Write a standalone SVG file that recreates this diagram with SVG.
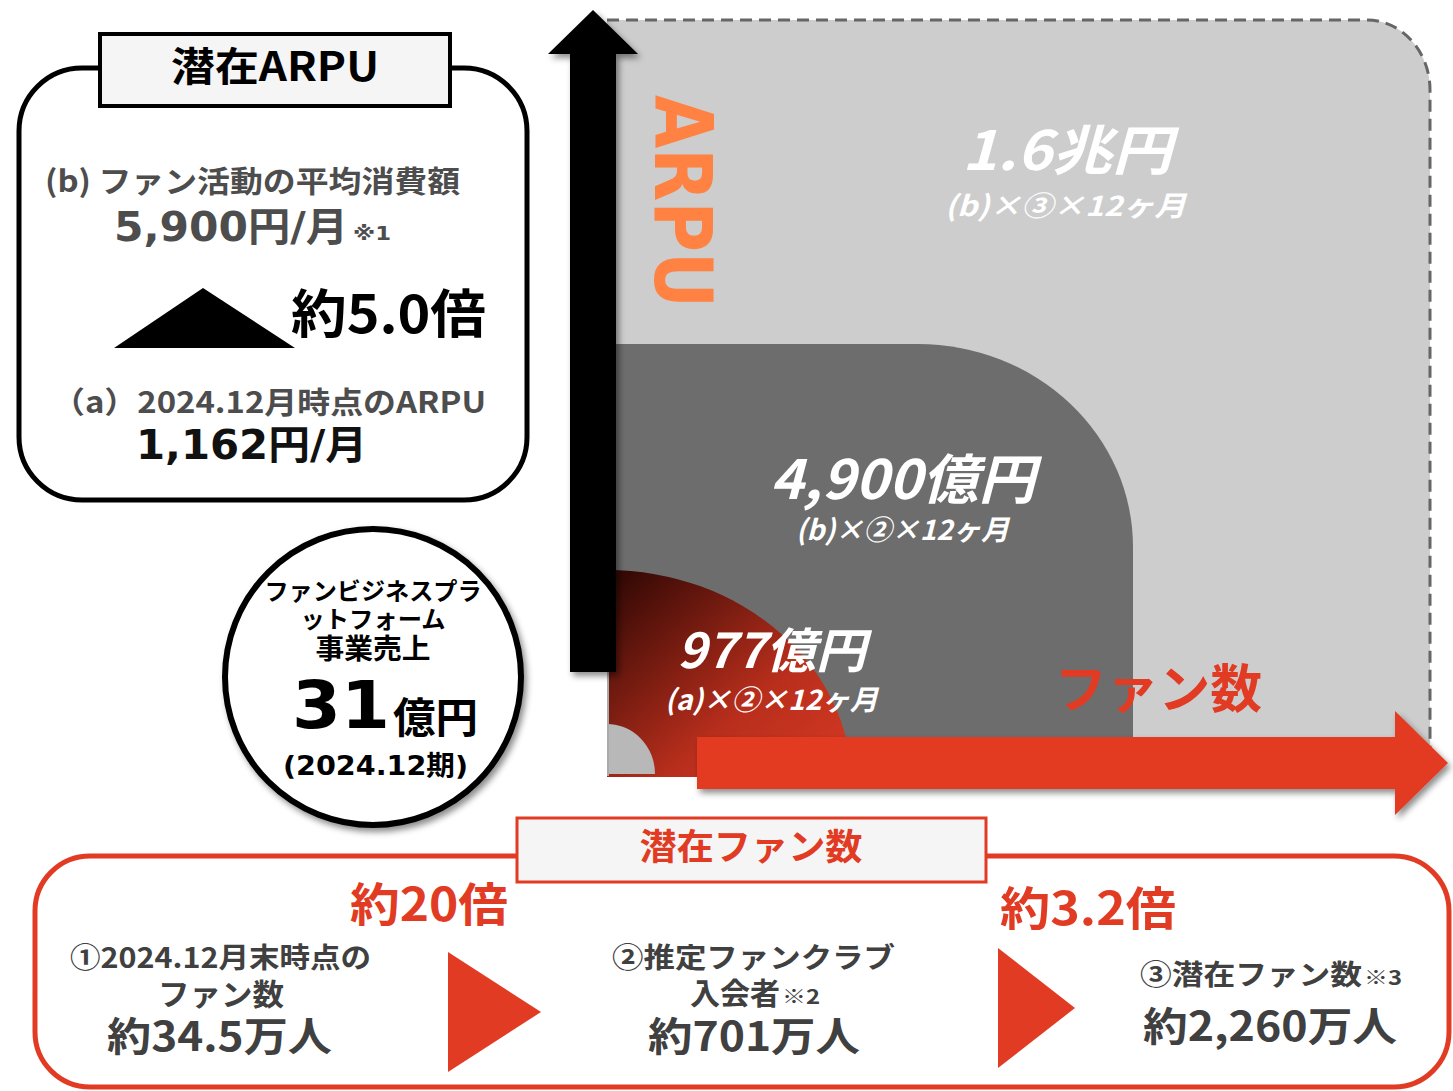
<svg xmlns="http://www.w3.org/2000/svg" width="1453" height="1091" viewBox="0 0 1453 1091">
<defs>
<style>
.jp{font-family:"Noto Sans CJK JP","DejaVu Sans",sans-serif;font-weight:bold}
.vd{font-family:"DejaVu Sans","Noto Sans CJK JP",sans-serif;font-weight:bold}
.it{font-style:italic;fill:#fff}
.g{fill:#4d4d4d}
.d{fill:#404040}
.r{fill:#e23b24}
.k{fill:#000}
</style>
<filter id="sh" x="-20%" y="-20%" width="140%" height="140%">
<feDropShadow dx="3" dy="4" stdDeviation="3" flood-color="#000" flood-opacity="0.45"/>
</filter>
<linearGradient id="rg" x1="0" y1="0" x2="1" y2="1">
<stop offset="0" stop-color="#2a0603"/>
<stop offset="0.6" stop-color="#b82e1c"/>
<stop offset="1" stop-color="#d83a24"/>
</linearGradient>
</defs>

<g id="chart-area">
<path d="M607,20 L1367,20 A63,70 0 0 1 1430,90 L1430,775 L607,775 Z" fill="#cdcdcd"/>
<path d="M607,20 L1367,20 A63,70 0 0 1 1430,90 L1430,775" fill="none" stroke="#666" stroke-width="3" stroke-dasharray="12,7"/>
<path d="M607,344 L918,344 A215,203 0 0 1 1133,547 L1133,775 L607,775 Z" fill="#6d6d6d"/>
<path d="M607,570 A245,215 0 0 1 852,785 L852,777 L607,777 Z" fill="url(#rg)"/>
<path d="M607,724 A48,50 0 0 1 655,774 L607,774 Z" fill="#b8b8b8"/>
<line x1="608" y1="344" x2="608" y2="776" stroke="#aaa" stroke-width="2"/>
</g>

<g id="arpu-axis">
<path d="M570,672 L570,54 L548,54 L593,10 L638,54 L616,54 L616,672 Z" fill="#000" filter="url(#sh)"/>
<text class="vd" x="0" y="0" transform="translate(655,95) rotate(90)" font-size="80" fill="#ff8243" textLength="213" lengthAdjust="spacingAndGlyphs">ARPU</text>
</g>

<g id="fan-axis">
<path d="M697,737 L1395,737 L1395,711 L1448,763 L1395,815 L1395,789 L697,789 Z" fill="#e23b24" filter="url(#sh)"/>
<text class="jp r" x="1055" y="708" font-size="52" textLength="207" lengthAdjust="spacingAndGlyphs">ファン数</text>
</g>

<g id="label-16">
<text class="jp it" x="962" y="170" font-size="54" textLength="210" lengthAdjust="spacingAndGlyphs">1.6兆円</text>
<text class="jp it" x="945" y="216" font-size="28" textLength="241" lengthAdjust="spacingAndGlyphs">(b)×③×12ヶ月</text>
</g>
<g id="label-4900">
<text class="jp it" x="770" y="499" font-size="54" textLength="265" lengthAdjust="spacingAndGlyphs">4,900億円</text>
<text class="jp it" x="796" y="540" font-size="28" textLength="213" lengthAdjust="spacingAndGlyphs">(b)×②×12ヶ月</text>
</g>
<g id="label-977">
<text class="jp it" x="677" y="668" font-size="48" textLength="189" lengthAdjust="spacingAndGlyphs">977億円</text>
<text class="jp it" x="665" y="710" font-size="28" textLength="213" lengthAdjust="spacingAndGlyphs">(a)×②×12ヶ月</text>
</g>

<g id="arpu-box">
<rect x="19" y="68" width="508" height="432" rx="63" fill="#fff" stroke="#000" stroke-width="5"/>
<rect x="100" y="34" width="350" height="72" fill="#f5f5f5" stroke="#000" stroke-width="4"/>
<text class="jp k" x="171" y="81" font-size="40" textLength="208" lengthAdjust="spacingAndGlyphs">潜在ARPU</text>
<text class="jp g" x="45" y="192" font-size="30" textLength="415" lengthAdjust="spacingAndGlyphs">(b) ファン活動の平均消費額</text>
<text class="vd g" x="114" y="241" font-size="40" textLength="234" lengthAdjust="spacingAndGlyphs">5,900円/月</text>
<text class="vd g" x="353" y="240" font-size="19" textLength="38" lengthAdjust="spacingAndGlyphs">※1</text>
<polygon points="114,348 203,288 295,348" fill="#000"/>
<text class="jp k" x="291" y="333" font-size="52" textLength="195" lengthAdjust="spacingAndGlyphs">約5.0倍</text>
<text class="jp g" x="52" y="413" font-size="30" textLength="434" lengthAdjust="spacingAndGlyphs">（a）2024.12月時点のARPU</text>
<text class="vd" x="136" y="459" font-size="40" fill="#111" textLength="231" lengthAdjust="spacingAndGlyphs">1,162円/月</text>
</g>

<g id="sales-circle">
<circle cx="373" cy="677" r="148" fill="#fff" stroke="#000" stroke-width="6" filter="url(#sh)"/>
<text class="jp k" x="373" y="600" font-size="24" text-anchor="middle" textLength="217" lengthAdjust="spacingAndGlyphs">ファンビジネスプラ</text>
<text class="jp k" x="373" y="628" font-size="24" text-anchor="middle" textLength="145" lengthAdjust="spacingAndGlyphs">ットフォーム</text>
<text class="jp k" x="373" y="659" font-size="28" text-anchor="middle" textLength="115" lengthAdjust="spacingAndGlyphs">事業売上</text>
<text class="vd k" x="292" y="728" font-size="66" textLength="98" lengthAdjust="spacingAndGlyphs">31</text>
<text class="jp k" x="393" y="733" font-size="42" textLength="85" lengthAdjust="spacingAndGlyphs">億円</text>
<text class="vd k" x="283" y="775" font-size="27" textLength="185" lengthAdjust="spacingAndGlyphs">(2024.12期)</text>
</g>

<g id="fan-box">
<rect x="35" y="856" width="1414" height="231" rx="55" fill="#fff" stroke="#e23b24" stroke-width="5"/>
<rect x="517" y="818" width="469" height="64" fill="#f5f5f5" stroke="#e23b24" stroke-width="3"/>
<text class="jp r" x="751" y="860" font-size="36" text-anchor="middle" textLength="223" lengthAdjust="spacingAndGlyphs">潜在ファン数</text>
<text class="jp r" x="350" y="921" font-size="46" textLength="158" lengthAdjust="spacingAndGlyphs">約20倍</text>
<text class="jp r" x="1000" y="925" font-size="46" textLength="176" lengthAdjust="spacingAndGlyphs">約3.2倍</text>
</g>

<g id="fan-1">
<text class="jp d" x="70" y="968" font-size="28" textLength="301" lengthAdjust="spacingAndGlyphs">①2024.12月末時点の</text>
<text class="jp d" x="158" y="1005" font-size="30" textLength="126" lengthAdjust="spacingAndGlyphs">ファン数</text>
<text class="jp d" x="107" y="1051" font-size="40" textLength="225" lengthAdjust="spacingAndGlyphs">約34.5万人</text>
</g>
<polygon id="step-1" points="448,952 541,1012 448,1072" fill="#e23b24"/>
<g id="fan-2">
<text class="jp d" x="612" y="968" font-size="28" textLength="283" lengthAdjust="spacingAndGlyphs">②推定ファンクラブ</text>
<text class="jp d" x="690" y="1004" font-size="30" textLength="90" lengthAdjust="spacingAndGlyphs">入会者</text>
<text class="jp d" x="782" y="1004" font-size="20" textLength="38" lengthAdjust="spacingAndGlyphs">※2</text>
<text class="jp d" x="648" y="1051" font-size="40" textLength="212" lengthAdjust="spacingAndGlyphs">約701万人</text>
</g>
<polygon id="step-2" points="998,948 1075,1008 998,1068" fill="#e23b24"/>
<g id="fan-3">
<text class="jp d" x="1140" y="985" font-size="28" textLength="222" lengthAdjust="spacingAndGlyphs">③潜在ファン数</text>
<text class="jp d" x="1364" y="985" font-size="20" textLength="38" lengthAdjust="spacingAndGlyphs">※3</text>
<text class="jp d" x="1143" y="1041" font-size="40" textLength="254" lengthAdjust="spacingAndGlyphs">約2,260万人</text>
</g>
</svg>
